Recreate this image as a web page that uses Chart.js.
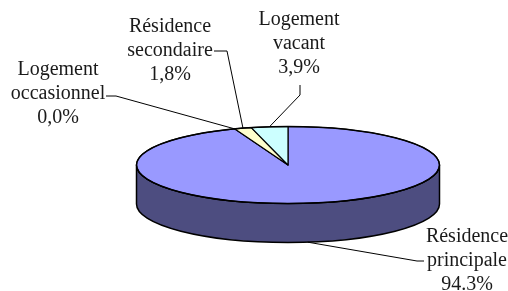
<!DOCTYPE html>
<html>
<head>
<meta charset="utf-8">
<script src="https://cdn.jsdelivr.net/npm/chart.js@4.4.0/dist/chart.umd.min.js"></script>
<style>
	html, body { margin: 0; padding: 0; background: #fff; }
	canvas { display: block; }
</style>
</head>
<body>
<canvas id="myChart" width="508" height="291"></canvas>
<script>
	// Données (ordre horaire depuis midi, comme dans Excel)
	const categories = ["Résidence principale", "Logement occasionnel", "Résidence secondaire", "Logement vacant"];
	const shares = [94.3, 0.0, 1.8, 3.9];
	const shareLabels = ["94.3%", "0,0%", "1,8%", "3,9%"];

	const sliceColors = ["#9999FF", "#993366", "#FFFFCC", "#CCFFFF"];

	// hauteur du cylindre, en pixels
	const depth = 39;

	// placement des étiquettes (centre du texte, ligne de base de la 1re ligne, coude du trait)
	const labelLayout = [
		{ x: 467, y: 242, lh: 24, from: [424, 261], elbow: [417, 261], angle: 1.44, base: true },
		{ x: 58, y: 75, lh: 24, from: [106, 96], elbow: [116, 96] },
		{ x: 170, y: 32, lh: 24, from: [214, 51], elbow: [227, 51] },
		{ x: 299, y: 25, lh: 24, from: [300, 85], elbow: [300, 95] },
	];

	const labelFont = "20px 'Liberation Serif', serif";

	// Function to darken a hex color
	function darken(hex, f) {
		hex = hex.replace(/^#/, "");
		const r = Math.round(parseInt(hex.substring(0, 2), 16) * f);
		const g = Math.round(parseInt(hex.substring(2, 4), 16) * f);
		const b = Math.round(parseInt(hex.substring(4, 6), 16) * f);
		return `rgb(${r},${g},${b})`;
	}

	function ellipseGeom(chart) {
		const area = chart.chartArea;
		const arc = chart.getDatasetMeta(0).data[0];
		return {
			cx: arc.x,
			cy: arc.y,
			rx: (area.width - 1) / 2,
			ry: arc.outerRadius,
		};
	}

	// camembert "3D" : côté du cylindre puis faces du dessus
	const pie3d = {
		id: "pie3d",
		beforeDatasetsDraw(chart) {
			const ctx = chart.ctx;
			const arcs = chart.getDatasetMeta(0).data;
			const g = ellipseGeom(chart);

			ctx.save();
			ctx.lineJoin = "round";
			ctx.strokeStyle = "#000";

			// côté visible (angles 0 à PI)
			arcs.forEach((arc, i) => {
				const lo = Math.max(arc.startAngle, 0);
				const hi = Math.min(arc.endAngle, Math.PI);
				if (hi <= lo) return;
				ctx.beginPath();
				ctx.ellipse(g.cx, g.cy, g.rx, g.ry, 0, lo, hi);
				ctx.lineTo(g.cx + g.rx * Math.cos(hi), g.cy + depth + g.ry * Math.sin(hi));
				ctx.ellipse(g.cx, g.cy + depth, g.rx, g.ry, 0, hi, lo, true);
				ctx.closePath();
				ctx.fillStyle = darken(sliceColors[i], 0.5);
				ctx.fill();
				ctx.lineWidth = 1.5;
				ctx.stroke();
			});

			// dessus
			arcs.forEach((arc, i) => {
				if (arc.endAngle - arc.startAngle <= 0) return;
				ctx.beginPath();
				ctx.moveTo(g.cx, g.cy);
				ctx.ellipse(g.cx, g.cy, g.rx, g.ry, 0, arc.startAngle, arc.endAngle);
				ctx.closePath();
				ctx.fillStyle = sliceColors[i];
				ctx.fill();
				ctx.lineWidth = 1.2;
				ctx.stroke();
			});

			ctx.beginPath();
			ctx.ellipse(g.cx, g.cy, g.rx, g.ry, 0, 0, Math.PI * 2);
			ctx.lineWidth = 1.5;
			ctx.stroke();
			ctx.restore();
			return false;
		},
		afterDraw(chart) {
			const ctx = chart.ctx;
			const arcs = chart.getDatasetMeta(0).data;
			const g = ellipseGeom(chart);

			ctx.save();
			ctx.font = labelFont;
			ctx.fillStyle = "#1a1a1a";
			ctx.textAlign = "center";
			ctx.textBaseline = "alphabetic";
			ctx.strokeStyle = "#000";
			ctx.lineWidth = 1;

			labelLayout.forEach((lay, i) => {
				const arc = arcs[i];
				const lines = categories[i].split(" ").concat([shareLabels[i]]);
				lines.forEach((t, k) => ctx.fillText(t, lay.x, lay.y + k * lay.lh));

				const a = lay.angle !== undefined ? lay.angle : (arc.startAngle + arc.endAngle) / 2;
				const ax = g.cx + g.rx * Math.cos(a);
				const ay = g.cy + (lay.base ? depth : 0) + g.ry * Math.sin(a);
				ctx.beginPath();
				ctx.moveTo(lay.from[0], lay.from[1]);
				ctx.lineTo(lay.elbow[0], lay.elbow[1]);
				ctx.lineTo(ax, ay);
				ctx.stroke();
			});
			ctx.restore();
		},
	};

	var ctx = document.getElementById("myChart").getContext("2d");
	var chartCanvas = new Chart(ctx, {
		type: "pie",
		data: {
			labels: categories,
			datasets: [
				{
					data: shares,
					backgroundColor: sliceColors,
					borderColor: "#000",
					borderWidth: 1,
				},
			],
		},
		options: {
			responsive: false,
			animation: false,
			layout: {
				padding: { left: 136, right: 68, top: 126, bottom: 87 },
			},
			plugins: {
				legend: { display: false },
				tooltip: { enabled: false },
			},
		},
		plugins: [pie3d],
	});
</script>
</body>
</html>
